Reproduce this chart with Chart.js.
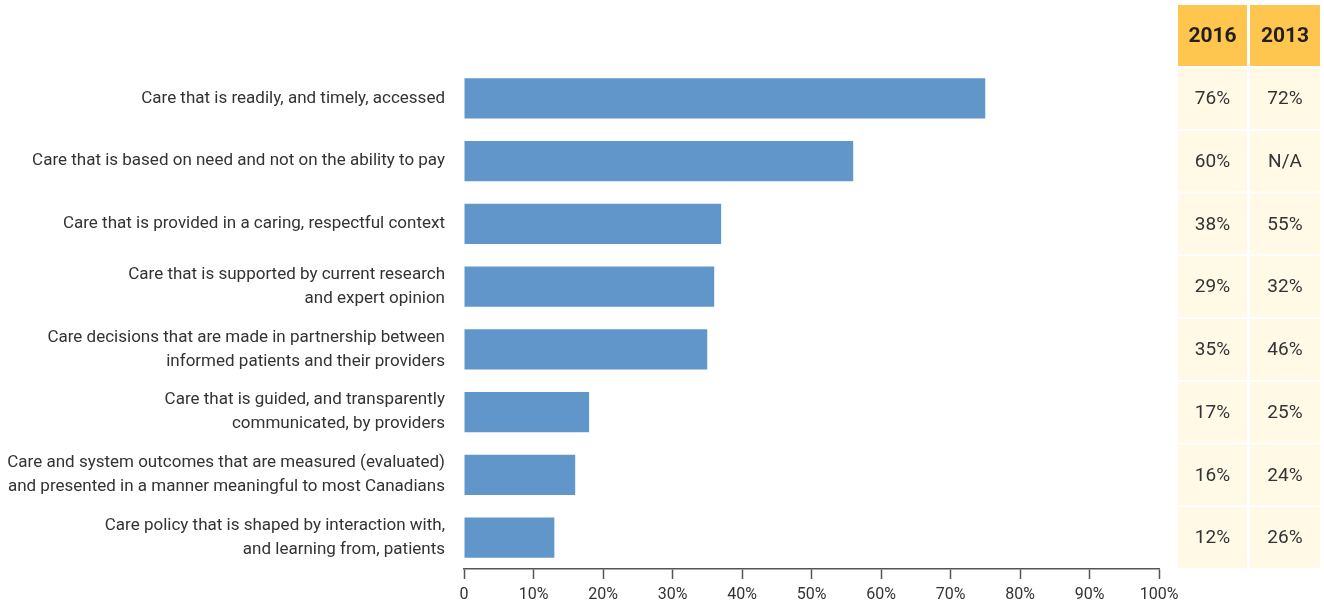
<!DOCTYPE html>
<html>
<head>
<meta charset="utf-8">
<script src="https://cdn.jsdelivr.net/npm/chart.js@4"></script>
<style>
  html, body { margin: 0; padding: 0; background: #fff; }
  #wrap { width: 1324px; height: 609px; }
</style>
</head>
<body>
<div id="wrap"><canvas id="chart"></canvas></div>
<script>
// categories (multi-line labels as in the original)
const categories = [
    ['Care that is readily, and timely, accessed'],
    ['Care that is based on need and not on the ability to pay'],
    ['Care that is provided in a caring, respectful context'],
    ['Care that is supported by current research', 'and expert opinion'],
    ['Care decisions that are made in partnership between', 'informed patients and their providers'],
    ['Care that is guided, and transparently', 'communicated, by providers'],
    ['Care and system outcomes that are measured (evaluated)', 'and presented in a manner meaningful to most Canadians'],
    ['Care policy that is shaped by interaction with,', 'and learning from, patients']
];

// bar lengths as drawn in the picture (percent)
const barValues = [75, 56, 37, 36, 35, 18, 16, 13];

// table columns at the right
const tableYears = ['2016', '2013'];
const table2016 = ['76%', '60%', '38%', '29%', '35%', '17%', '16%', '12%'];
const table2013 = ['72%', 'N/A', '55%', '32%', '46%', '25%', '24%', '26%'];

const xTicks = [0, 10, 20, 30, 40, 50, 60, 70, 80, 90, 100];

const FONT = '"Liberation Sans Narrow", "Roboto", sans-serif';

// draws the 2016 / 2013 table next to the bars
const tablePlugin = {
    id: 'sideTable',
    afterDraw(chart) {
        const ctx = chart.ctx;
        const y = chart.scales.y;
        const cols = [[1178, 69], [1250, 70]];
        const band = y.getPixelForValue(1) - y.getPixelForValue(0);
        const values = [table2016, table2013];

        ctx.save();
        // header
        const headTop = 5;
        const headBottom = y.getPixelForValue(0) - band / 2 - 1;
        cols.forEach(function (c, j) {
            ctx.fillStyle = '#fec64f';
            ctx.fillRect(c[0], headTop, c[1], headBottom - headTop);
            ctx.fillStyle = '#231f20';
            ctx.font = 'bold 21px ' + FONT;
            ctx.textAlign = 'center';
            ctx.textBaseline = 'middle';
            ctx.fillText(tableYears[j], c[0] + c[1] / 2, (headTop + headBottom) / 2 + 1);
        });

        // rows
        for (let i = 0; i < categories.length; i++) {
            const cy = y.getPixelForValue(i);
            const top = cy - band / 2 + 1;
            cols.forEach(function (c, j) {
                ctx.fillStyle = '#fff9e6';
                ctx.fillRect(c[0], top, c[1], band - 2);
                ctx.fillStyle = '#333333';
                ctx.font = '19px ' + FONT;
                ctx.textAlign = 'center';
                ctx.textBaseline = 'middle';
                ctx.fillText(values[j][i], c[0] + c[1] / 2, cy + 1);
            });
        }
        ctx.restore();
    }
};

new Chart(document.getElementById('chart'), {
    type: 'bar',
    data: {
        labels: categories,
        datasets: [{
            data: barValues,
            backgroundColor: '#6096c9',
            borderWidth: 0,
            categoryPercentage: 0.64,
            barPercentage: 1
        }]
    },
    options: {
        indexAxis: 'y',
        responsive: true,
        maintainAspectRatio: false,
        animation: false,
        layout: { padding: { top: 67, right: 165, left: 0, bottom: 0 } },
        plugins: {
            legend: { display: false },
            tooltip: { enabled: false }
        },
        scales: {
            x: {
                min: 0,
                max: 100,
                afterBuildTicks: function (scale) {
                    scale.ticks = xTicks.map(function (v) { return { value: v }; });
                },
                afterFit: function (scale) { scale.height = 40; },
                grid: {
                    drawOnChartArea: false,
                    drawTicks: true,
                    tickLength: 10,
                    tickWidth: 1.5,
                    color: '#555'
                },
                border: { display: true, color: '#555', width: 1.5 },
                ticks: {
                    padding: 6,
                    color: '#333',
                    font: { family: FONT, size: 16 },
                    callback: function (v) { return v === 0 ? '0' : v + '%'; }
                }
            },
            y: {
                afterFit: function (scale) { scale.width = 464; },
                grid: { display: false, drawTicks: false },
                border: { display: false },
                ticks: {
                    padding: 19,
                    color: '#333',
                    font: { family: FONT, size: 17, lineHeight: 1.4 }
                }
            }
        }
    },
    plugins: [tablePlugin]
});
</script>
</body>
</html>
